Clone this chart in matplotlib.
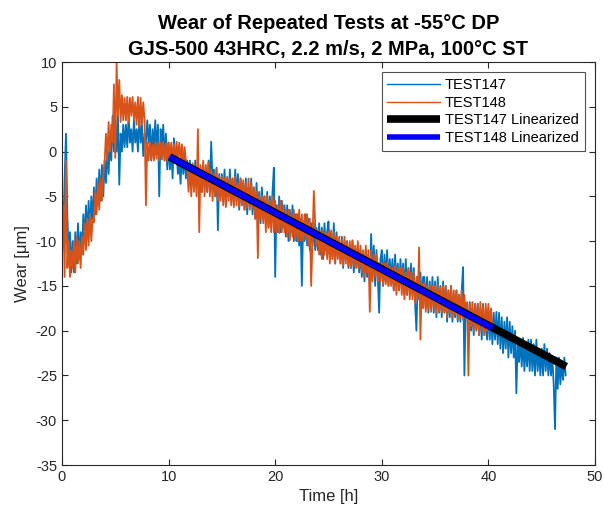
import numpy as np
import matplotlib
matplotlib.use("Agg")
import matplotlib.pyplot as plt

plt.rcParams['font.family'] = ['Liberation Sans', 'DejaVu Sans']
plt.rcParams['axes.unicode_minus'] = False

DT = 0.125  # sampling interval [h], 8 readings per hour

w147 = [
    -5, -9, -3, 2, -7, -11, -9, -13.5,
    -10, -13.5, -9, -12.5, -8, -12, -9, -11.5,
    -7, -10, -6, -9.5, -5.5, -9, -5, -8,
    -4, -7, -3, -6, -2, -5.5, -1.5, -5,
    -1, -3.5, 0.5, -2.5, 1, -1, 4, 0,
    3.5, 0, 4, -3.7, 2, 0, 3, 0.5,
    3, 0.5, 4, 1, 2.5, 0, 3.5, 1,
    2.5, 0, 4, 1, 3, -0.5, 2, 1,
    3.5, 1, 3, -1, 2.5, 0.5, 3.5, 0,
    3, -5, 2.5, 0, 3, -1, 2, -2,
    1, -2, 0.5, -3, 1.5, -1, 0, -2.5,
    -1, -3.6, 0, -2.5, -0.5, -3, -1, -3,
    -1, -3.5, -1.5, -4, -1, -3.5, -2, -4,
    -2, -4.5, -1.5, -4, -2, -4.5, -1, -4,
    1.1, -3.5, -2, -5, -1.8, -8.8, -2.5, -5,
    -2.5, -5.5, -2, -6, -3, -5, -2, -5.5,
    -3, -6, -2, -5.5, -2.5, -6.5, -3, -6,
    -3.5, -6.5, -3, -7, -4, -6, -3, -7,
    -4, -7.5, -3.5, -7, -4.5, -8, -4, -7,
    -5, -8, -4.5, -8.5, -5, -8, -4.5, -1.8,
    -14, -6, -9, -5, -9, -5.5, -8.5, -6,
    -9.5, -6, -10, -6.5, -9, -6, -10, -7,
    -10, -7, -10.5, -7.5, -15, -8, -10, -7,
    -10.5, -7.5, -11, -8, -10.5, -8, -11, -8.5,
    -11, -8, -11.5, -8.5, -12, -8, -11, -9,
    -7.8, -11.5, -9, -12, -8, -12.5, -9, -11.5,
    -10, -12.5, -9.5, -13, -10, -12, -10, -13,
    -10.5, -13, -10, -13.5, -11, -13, -10.5, -13.5,
    -11, -14, -11.5, -14.5, -11, -14, -12, -14.5,
    -9.2, -14, -10.5, -15, -11, -14, -18, -12,
    -11, -15, -11.5, -14.5, -11, -15, -12, -14.5,
    -12, -15.5, -11.5, -15, -12.5, -15.5, -12, -15,
    -12.5, -16, -12, -16, -13, -15.5, -12.5, -16,
    -13, -17, -20, -14, -16.5, -13.5, -17, -14,
    -14, -17.5, -14, -18, -14.5, -17.5, -14, -18,
    -14.5, -18.5, -14, -18, -15, -18.5, -14.5, -18,
    -15, -19, -15.5, -18.5, -15, -19, -16, -18.5,
    -15.5, -19, -16, -19, -15.5, -12.9, -25, -17,
    -17, -20.5, -16.8, -20, -17.5, -20.5, -17, -20,
    -17, -20.5, -17.5, -21, -17, -20.5, -18, -21,
    -17.5, -21, -18, -21.5, -18, -21, -17.9, -21.5,
    -18, -22, -18.5, -22.5, -19, -22, -18.5, -23,
    -19, -22.5, -19.5, -23, -20, -27, -21, -23.5,
    -21, -24, -20.8, -24.5, -21.5, -24, -21, -24.5,
    -21, -24.5, -21.5, -25, -21, -24.5, -22, -25,
    -22, -25, -21.5, -24.5, -22, -25, -22.5, -25,
    -23, -26, -31, -23, -26.5, -23, -26, -23.5,
    -25.5, -23, -25,
]

w148 = [
    -12, -6, -14, -1, -13, -10, -14, -11,
    -13, -10, -13.5, -9.5, -12.5, -10, -13, -9.5,
    -11.5, -8, -11, -7.5, -10.5, -7, -10, -7.5,
    -7.9, -4.5, -7, -3.5, -6.5, -3, -5.5, -2.6,
    -1.2, 2, -1, 3.3, 0, 3, 1, 7.5,
    -0.7, 10, 4, 8, 3.3, 6.3, 3.5, 6,
    3.5, 6.1, 3.3, 6, 4, 6.1, 3.5, 5.5,
    3, 6.1, 2.6, 6, 3, 5.5, 3.5, -6,
    1, -1, 1.1, -0.9, 0.8, -1, 1, -0.8,
    1, -1, 1, -0.9, 1.1, -1, 0.9, -1,
    1, -1, 1, -1, 0.8, -1, 1.1, -0.9,
    1, -1, 0.8, -1.5, 0.5, -1, -1.8, -4.5,
    -1.5, -5, -1.3, -4.5, -2, -5, 2.5, -9,
    -1.5, -4.5, -1, -5, -1.5, -4.5, -1.2, -5,
    -2, -5.5, -2.5, -5, -2, -5.5, -2.8, -5.5,
    -2.8, -6, -3, -6.2, -2.8, -5.5, -3, -6,
    -3, -6.2, -2.8, -6, -3.5, -6.2, -3, -6,
    -3.2, -6.5, -3.5, -6.2, -3, -6.5, -3.5, -6.2,
    -4, -7.5, -4.5, -11.9, -4.9, -7.5, -5, -8,
    -5, -9, -4.9, -8.5, -5.5, -9, -5, -9,
    -5.5, -9, -6, -9.1, -5.5, -9, -6, -9,
    -6.5, -9.5, -6.5, -9.9, -7, -9.5, -6.5, -9.9,
    -7, -10, -6.5, -9.9, -7, -10, -7, -9.8,
    -7, -10.5, -7.5, -15, -10, -4.4, -8, -10.5,
    -8.8, -11.5, -9, -12, -8.8, -11.5, -9, -12,
    -9, -12.5, -8.8, -12, -9, -12.5, -9.5, -12,
    -9.5, -12.5, -9.9, -12.8, -9.5, -12.5, -10, -12.8,
    -10, -13, -9.9, -12.8, -10.5, -13, -10, -13,
    -10.5, -13.5, -11, -14, -10.5, -13.5, -11, -17.9,
    -11, -14.5, -11.5, -14, -11.5, -14.5, -12.4, -14.5,
    -12.4, -15, -12.5, -14.8, -12.4, -15, -12.8, -15,
    -13, -15.5, -12.8, -16, -13, -15.5, -13, -16,
    -13, -16.5, -13.5, -16, -13, -16.5, -13.5, -16.5,
    -13.5, -17, -14, -16.5, -10.7, -21, -14.7, -17.5,
    -14.7, -17.9, -15, -17.5, -14.9, -17.9, -15, -17.5,
    -15, -18, -14.9, -17.9, -15.2, -18, -15, -17.9,
    -15, -18.5, -15.5, -18, -15, -18.5, -15.5, -18.2,
    -15.5, -18.8, -16, -18.5, -15.5, -18.8, -16, -18.5,
    -16.8, -25, -17, -19.5, -16.8, -20, -17, -19.8,
    -17, -20.5, -16.8, -20, -17.2, -20.5, -17, -20,
    -17, -20, -17.5, -19.8,
]

lin147_t = [10.1, 47.3]
lin147_w = [-0.6, -24.0]
lin148_t = [10.1, 40.4]
lin148_w = [-0.6, -19.7]

t147 = np.arange(len(w147)) * DT
t148 = np.arange(len(w148)) * DT

fig = plt.figure(figsize=(6.04, 5.19), dpi=100)
ax = fig.add_axes([0.1026, 0.104, 0.8825, 0.7765])

ax.plot(t147, w147, color='#0072BD', lw=1.3, label='TEST147')
ax.plot(t148, w148, color='#D95319', lw=1.3, label='TEST148')
ax.plot(lin147_t, lin147_w, color='black', lw=5.5, label='TEST147 Linearized', solid_capstyle='butt')
ax.plot(lin148_t, lin148_w, color='#0000FF', lw=4, label='TEST148 Linearized', solid_capstyle='butt')

ax.set_xlim(0, 50)
ax.set_ylim(-35, 10)
ax.set_xticks(np.arange(0, 51, 10))
ax.set_yticks(np.arange(-35, 11, 5))
ax.tick_params(direction='in', top=True, right=True, labelsize=10.5, length=4, width=0.8, colors='#262626')
for s in ax.spines.values():
    s.set_color('#262626')
    s.set_linewidth(0.8)

ax.set_xlabel('Time [h]', fontsize=12, color='#262626')
ax.set_ylabel('Wear [μm]', fontsize=12, color='#262626')
ax.set_title('Wear of Repeated Tests at -55°C DP\nGJS-500 43HRC, 2.2 m/s, 2 MPa, 100°C ST',
             fontsize=14.5, fontweight='bold', linespacing=1.45, pad=5)

leg = ax.legend(loc='upper right', fontsize=10.5, frameon=True, fancybox=False,
                edgecolor='#262626', borderaxespad=0.7, handlelength=3.6,
                handletextpad=0.35, labelspacing=0.25, borderpad=0.4)
leg.get_frame().set_linewidth(0.8)
for h in leg.get_lines()[:2]:
    h.set_linewidth(1.0)

fig.savefig('out.png', dpi=100)
